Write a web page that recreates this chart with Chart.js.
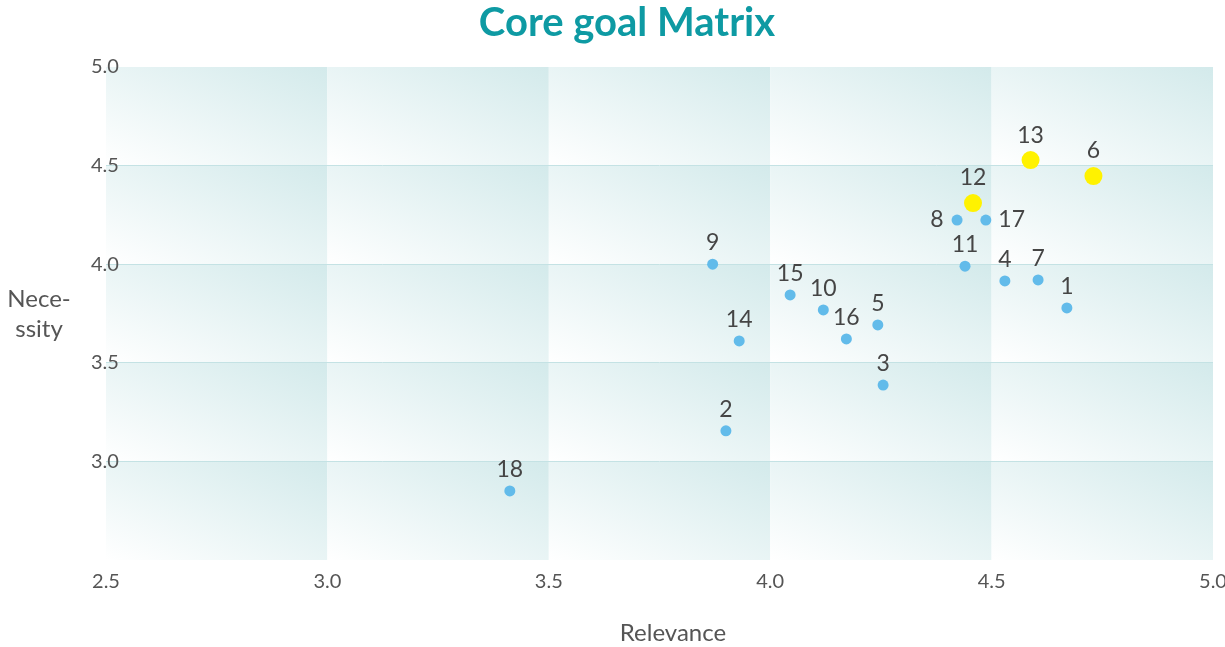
<!DOCTYPE html>
<html>
<head>
<meta charset="utf-8">
<title>Core goal Matrix</title>
<script src="https://cdn.jsdelivr.net/npm/chart.js@4/dist/chart.umd.min.js"></script>
<style>
  html, body { margin: 0; padding: 0; background: #fff; }
  #wrap { width: 1225px; height: 647px; position: relative; }
</style>
</head>
<body>
<div id="wrap"><canvas id="matrix"></canvas></div>
<script>
// goal numbers and their scores
const goalIds   = ['1','2','3','4','5','6','7','8','9','10','11','12','13','14','15','16','17','18'];
const relevance = [4.67, 3.90, 4.255, 4.53, 4.243, 4.73, 4.605, 4.422, 3.87, 4.12, 4.44, 4.458, 4.588, 3.93, 4.045, 4.172, 4.487, 3.412];
const necessity = [3.778, 3.155, 3.387, 3.915, 3.692, 4.447, 3.92, 4.224, 4.0, 3.768, 3.99, 4.31, 4.528, 3.611, 3.844, 3.621, 4.224, 2.85];
const coreGoals = ['6', '12', '13'];

const xTicks = [2.5, 3.0, 3.5, 4.0, 4.5, 5.0];
const yTicks = [2.5, 3.0, 3.5, 4.0, 4.5, 5.0];

const FONT = 'Lato, "Noto Sans", sans-serif';

// a few labels sit beside their dot instead of above
const labelSide = { '8': 'left', '17': 'right' };

const points = goalIds.map((id, i) => ({ x: relevance[i], y: necessity[i], id: id }));
const isCore = ctx => ctx.raw && coreGoals.includes(ctx.raw.id);

// shaded cells behind the grid: corner-to-corner gradient in each cell's own box
const cellShade = {
  id: 'cellShade',
  beforeDraw(chart) {
    const { ctx, scales: { x, y } } = chart;
    for (let i = 0; i < xTicks.length - 1; i++) {
      for (let j = 0; j < yTicks.length - 1; j++) {
        const x0 = x.getPixelForValue(xTicks[i]);
        const x1 = x.getPixelForValue(xTicks[i + 1]);
        const yb = y.getPixelForValue(yTicks[j]);
        const yt = y.getPixelForValue(yTicks[j + 1]);
        ctx.save();
        ctx.translate(x0, yt);
        ctx.scale(x1 - x0, yb - yt);
        const g = ctx.createLinearGradient(0, 1, 1, 0);
        g.addColorStop(0, 'rgb(255,255,255)');
        g.addColorStop(1, 'rgb(211,234,235)');
        ctx.fillStyle = g;
        ctx.fillRect(0, 0, 1, 1);
        ctx.restore();
      }
    }
  }
};

// title, number beside every dot, and the two axis titles
const textLayer = {
  id: 'textLayer',
  afterDatasetsDraw(chart) {
    const { ctx } = chart;
    const meta = chart.getDatasetMeta(0);
    ctx.save();
    ctx.fillStyle = '#454545';
    ctx.font = '23px ' + FONT;
    ctx.textBaseline = 'middle';
    meta.data.forEach((el, i) => {
      const id = goalIds[i];
      const r = coreGoals.includes(id) ? 9 : 5.5;
      const side = labelSide[id];
      if (side === 'left') {
        ctx.textAlign = 'right';
        ctx.fillText(id, el.x - r - 8, el.y);
      } else if (side === 'right') {
        ctx.textAlign = 'left';
        ctx.fillText(id, el.x + r + 7, el.y);
      } else {
        ctx.textAlign = 'center';
        ctx.fillText(id, el.x, el.y - r - 16);
      }
    });

    ctx.fillStyle = '#555';
    ctx.font = '24px ' + FONT;
    ctx.textAlign = 'center';
    ctx.fillText('Relevance', 673, 633);
    ctx.fillText('Nece-', 39, 299);
    ctx.fillText('ssity', 39, 329);

    ctx.fillStyle = '#0e9aa3';
    ctx.font = 'bold 40px ' + FONT;
    ctx.fillText('Core goal Matrix', 627, 23);
    ctx.restore();
  }
};

new Chart(document.getElementById('matrix'), {
  type: 'scatter',
  data: {
    datasets: [{
      data: points,
      backgroundColor: ctx => isCore(ctx) ? '#fff200' : '#62bbea',
      borderWidth: 0,
      pointRadius: ctx => isCore(ctx) ? 9 : 5.5,
      pointHoverRadius: ctx => isCore(ctx) ? 9 : 5.5
    }]
  },
  options: {
    responsive: true,
    maintainAspectRatio: false,
    animation: false,
    layout: { padding: { top: 67, left: 0, right: 0, bottom: 0 } },
    plugins: {
      legend: { display: false },
      tooltip: { enabled: false },
      title: { display: false }
    },
    scales: {
      x: {
        type: 'linear',
        min: 2.5,
        max: 5.0,
        afterBuildTicks: s => { s.ticks = xTicks.map(v => ({ value: v })); },
        afterFit: s => { s.height = 87; s.paddingRight = 12; s.paddingLeft = 0; },
        border: { display: false },
        grid: { display: false, drawTicks: false },
        ticks: {
          padding: 10,
          color: '#555',
          font: { family: FONT, size: 20 },
          callback: v => v.toFixed(1)
        }
      },
      y: {
        type: 'linear',
        min: 2.5,
        max: 5.0,
        afterBuildTicks: s => { s.ticks = yTicks.map(v => ({ value: v })); },
        afterFit: s => { s.width = 106; s.paddingTop = 0; },
        border: { display: false },
        grid: {
          drawTicks: false,
          color: ctx => (ctx.tick && ctx.tick.value > 2.5 && ctx.tick.value < 5.0) ? '#c4e2e4' : 'rgba(0,0,0,0)',
          lineWidth: 1
        },
        ticks: {
          mirror: true,
          padding: -15,
          color: '#555',
          font: { family: FONT, size: 20 },
          callback: v => v === 2.5 ? '' : v.toFixed(1)
        }
      }
    }
  },
  plugins: [cellShade, textLayer]
});
</script>
</body>
</html>
